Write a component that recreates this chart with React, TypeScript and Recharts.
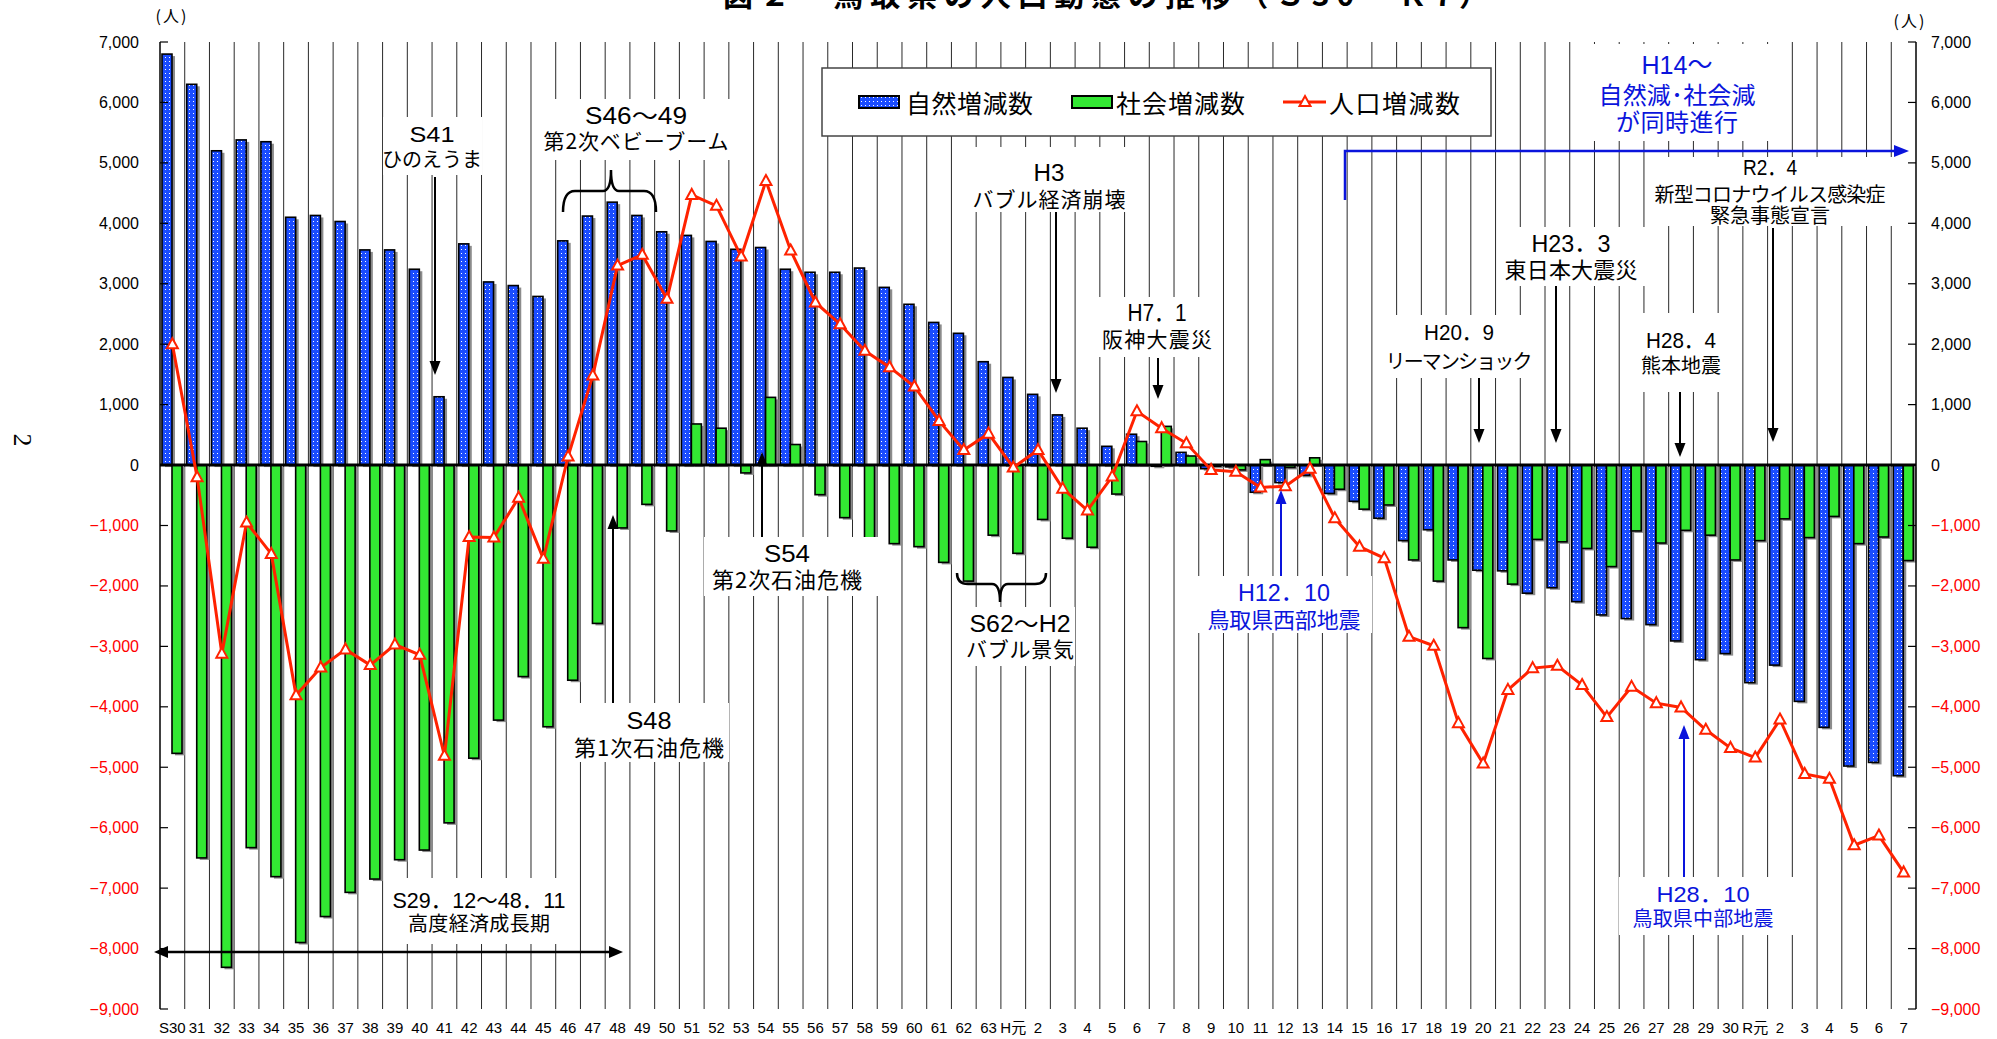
import React from "react";
import { ComposedChart, Bar, Line, XAxis, YAxis, CartesianGrid, ReferenceLine } from "recharts";

// 年次（S30～R7）
const yearKeys = [
  "S30", "S31", "S32", "S33", "S34", "S35", "S36", "S37", "S38", "S39",
  "S40", "S41", "S42", "S43", "S44", "S45", "S46", "S47", "S48", "S49",
  "S50", "S51", "S52", "S53", "S54", "S55", "S56", "S57", "S58", "S59",
  "S60", "S61", "S62", "S63",
  "H1", "H2", "H3", "H4", "H5", "H6", "H7", "H8", "H9", "H10",
  "H11", "H12", "H13", "H14", "H15", "H16", "H17", "H18", "H19", "H20",
  "H21", "H22", "H23", "H24", "H25", "H26", "H27", "H28", "H29", "H30",
  "R1", "R2", "R3", "R4", "R5", "R6", "R7",
];
const yearLabels = [
  "S30", "31", "32", "33", "34", "35", "36", "37", "38", "39",
  "40", "41", "42", "43", "44", "45", "46", "47", "48", "49",
  "50", "51", "52", "53", "54", "55", "56", "57", "58", "59",
  "60", "61", "62", "63",
  "H元", "2", "3", "4", "5", "6", "7", "8", "9", "10",
  "11", "12", "13", "14", "15", "16", "17", "18", "19", "20",
  "21", "22", "23", "24", "25", "26", "27", "28", "29", "30",
  "R元", "2", "3", "4", "5", "6", "7",
];

// 自然増減数
const natural = [
  6800, 6300, 5200, 5380, 5350, 4100, 4130, 4030, 3560, 3560,
  3240, 1130, 3660, 3030, 2970, 2790, 3710, 4120, 4350, 4130,
  3860, 3800, 3700, 3570, 3600, 3240, 3190, 3190, 3260, 2940,
  2660, 2360, 2180, 1710,
  1450, 1170, 830, 610, 310, 510, -20, 210, -60, -30,
  -450, -290, -170, -470, -600, -880, -1250, -1070, -1570, -1740,
  -1750, -2120, -2030, -2260, -2480, -2540, -2640, -2910, -3220, -3120,
  -3600, -3310, -3910, -4340, -4980, -4920, -5140,
];

// 社会増減数
const social = [
  -4770, -6500, -8310, -6330, -6810, -7900, -7470, -7070, -6850, -6530,
  -6370, -5920, -4850, -4220, -3500, -4330, -3560, -2620, -1040, -650,
  -1090, 680, 610, -130, 1120, 340, -490, -870, -1370, -1300,
  -1350, -1610, -1920, -1160,
  -1460, -900, -1210, -1360, -480, 390, 640, 150, -20, -80,
  90, -40, 120, -400, -730, -660, -1570, -1920, -2690, -3200,
  -1970, -1230, -1270, -1380, -1680, -1090, -1290, -1080, -1160, -1570,
  -1250, -890, -1200, -850, -1300, -1190, -1580,
];

// 人口増減数
const total = [
  2000, -200, -3120, -950, -1470, -3810, -3350, -3050, -3310, -2970,
  -3140, -4810, -1190, -1200, -540, -1550, 140, 1480, 3300, 3480,
  2750, 4470, 4290, 3450, 4700, 3550, 2690, 2330, 1890, 1620,
  1300, 730, 250, 520,
  -40, 250, -390, -750, -190, 890, 610, 360, -80, -110,
  -370, -350, -60, -880, -1350, -1540, -2840, -2990, -4270, -4940,
  -3720, -3360, -3320, -3640, -4170, -3670, -3940, -4010, -4380, -4680,
  -4840, -4210, -5110, -5190, -6290, -6130, -6740,
];

const yTicks = [7000, 6000, 5000, 4000, 3000, 2000, 1000, 0, -1000, -2000, -3000, -4000, -5000, -6000, -7000, -8000, -9000];

const W = 1997;
const H = 1039;
const PLOT_LEFT = 160;
const PLOT_RIGHT = 1916;
const PLOT_TOP = 42;

const BLUE = "#1a4cff";
const GREEN = "#33e833";
const RED = "#ff2200";
const NAVY = "#0a14dc";
const JP = "'Noto Sans CJK JP', sans-serif";
const NUM = "'Liberation Sans', Arial, sans-serif";
const MIX = "'Liberation Sans', 'Noto Sans CJK JP', sans-serif";

const chartData = yearKeys.map((k, i) => ({
  key: k,
  natural: natural[i],
  social: social[i],
  total: total[i],
}));

const labelOf: Record<string, string> = {};
yearKeys.forEach((k, i) => (labelOf[k] = yearLabels[i]));

const fmt = (v: number) => (v < 0 ? "−" : "") + Math.abs(v).toLocaleString("en-US");

const LeftTick = (p: any) => {
  const v = p.payload.value;
  return (
    <g>
      <line x1={p.x + 21} x2={p.x + 29} y1={p.y} y2={p.y} stroke="#000" strokeWidth={1.2} />
      <text x={p.x} y={p.y} textAnchor="end" dominantBaseline="central" fontSize={16} fontFamily={NUM} fill={v < 0 ? "#ff0000" : "#000"}>
        {fmt(v)}
      </text>
    </g>
  );
};

const RightTick = (p: any) => {
  const v = p.payload.value;
  return (
    <g>
      <line x1={p.x - 23} x2={p.x - 15} y1={p.y} y2={p.y} stroke="#000" strokeWidth={1.2} />
      <text x={p.x} y={p.y} textAnchor="start" dominantBaseline="central" fontSize={16} fontFamily={NUM} fill={v < 0 ? "#ff0000" : "#000"}>
        {fmt(v)}
      </text>
    </g>
  );
};

const XTick = (p: any) => (
  <text x={p.x} y={p.y + 24} textAnchor="middle" fontSize={15} fontFamily={MIX} fill="#000">
    {labelOf[p.payload.value]}
  </text>
);

const barShape = (fill: string) => (p: any) => {
  const { x, y, width, height } = p;
  if (x == null || !width) return <g />;
  const top = Math.min(y, y + height);
  const h = Math.abs(height);
  return (
    <g>
      <rect x={x + 3} y={top + 2} width={width} height={h} fill="#8c8c8c" />
      <rect x={x} y={top} width={width} height={h} fill={fill} stroke="#000" strokeWidth={1.6} />
    </g>
  );
};

const Tri = (p: any) => {
  const { cx, cy, index } = p;
  if (cx == null || cy == null) return <g key={`t${index}`} />;
  return (
    <path
      key={`t${index}`}
      d={`M${cx},${cy - 6} L${cx + 5.5},${cy + 4} L${cx - 5.5},${cy + 4} Z`}
      fill="#fff"
      stroke={RED}
      strokeWidth={2}
    />
  );
};

const gridX = (props: any) => {
  const left = props?.offset?.left ?? PLOT_LEFT;
  const w = props?.offset?.width ?? PLOT_RIGHT - PLOT_LEFT;
  return yearKeys.slice(1).map((_, i) => left + ((i + 1) * w) / yearKeys.length);
};

type Note = {
  lines: string[];
  w: number[];
  cx: number;
  ys: number[];
  box: number[];
  size: number;
  color?: string;
};

const notes: Note[] = [
  { lines: ["S41", "ひのえうま"], w: [45, 100], cx: 432, ys: [134, 158], box: [383, 117, 482, 175], size: 20 },
  { lines: ["S46～49", "第2次ベビーブーム"], w: [102, 185], cx: 636, ys: [116, 140], box: [543, 99, 732, 160], size: 21 },
  { lines: ["H3", "バブル経済崩壊"], w: [31, 153], cx: 1049, ys: [173, 198], box: [970, 147, 1130, 212], size: 21 },
  { lines: ["H7．1", "阪神大震災"], w: [59, 110], cx: 1157, ys: [313, 338], box: [1097, 297, 1217, 357], size: 21 },
  { lines: ["H14～", "自然減･社会減", "が同時進行"], w: [71, 157, 122], cx: 1677, ys: [65, 93, 120], box: [1590, 44, 1775, 141], size: 24, color: NAVY },
  { lines: ["R2．4", "新型コロナウイルス感染症", "緊急事態宣言"], w: [54, 231, 120], cx: 1770, ys: [167, 193, 214], box: [1650, 157, 1892, 226], size: 20 },
  { lines: ["H23．3", "東日本大震災"], w: [79, 133], cx: 1571, ys: [243, 268], box: [1498, 227, 1645, 286], size: 22 },
  { lines: ["H20．9", "リーマンショック"], w: [70, 147], cx: 1459, ys: [332, 360], box: [1380, 315, 1540, 378], size: 20 },
  { lines: ["H28．4", "熊本地震"], w: [70, 80], cx: 1681, ys: [340, 364], box: [1630, 313, 1732, 392], size: 20 },
  { lines: ["H12．10", "鳥取県西部地震"], w: [92, 153], cx: 1284, ys: [592, 618], box: [1195, 576, 1372, 633], size: 22, color: NAVY },
  { lines: ["H28．10", "鳥取県中部地震"], w: [93, 141], cx: 1703, ys: [894, 917], box: [1619, 877, 1793, 935], size: 20, color: NAVY },
  { lines: ["S54", "第2次石油危機"], w: [46, 150], cx: 787, ys: [553, 578], box: [704, 537, 878, 596], size: 22 },
  { lines: ["S48", "第1次石油危機"], w: [45, 150], cx: 649, ys: [720, 746], box: [567, 703, 729, 762], size: 22 },
  { lines: ["S62～H2", "バブル景気"], w: [101, 108], cx: 1020, ys: [624, 648], box: [957, 607, 1075, 666], size: 21 },
  { lines: ["S29．12～48．11", "高度経済成長期"], w: [173, 142], cx: 479, ys: [900, 922], box: [388, 878, 565, 944], size: 20 },
];

const ArrowV = ({ x, from, to, color = "#000" }: { x: number; from: number; to: number; color?: string }) => {
  const dir = to > from ? 1 : -1;
  const hl = 14;
  const hw = 5.5;
  return (
    <g>
      <line x1={x} x2={x} y1={from} y2={to - dir * hl} stroke={color} strokeWidth={2} />
      <path d={`M${x},${to} L${x - hw},${to - dir * hl} L${x + hw},${to - dir * hl} Z`} fill={color} />
    </g>
  );
};

export default function App() {
  return (
    <div style={{ position: "absolute", left: 0, top: 0, width: W, height: H, background: "#fff", overflow: "hidden" }}>
      <svg width={0} height={0} style={{ position: "absolute" }}>
        <defs>
          <pattern id="dotBlue" width="4" height="4" patternUnits="userSpaceOnUse">
            <rect width="4" height="4" fill={BLUE} />
            <rect x="1" y="1" width="1" height="1" fill="#ffffff" />
          </pattern>
        </defs>
      </svg>

      <ComposedChart
        width={W}
        height={H}
        data={chartData}
        margin={{ top: PLOT_TOP, right: 21, bottom: 0, left: 100 }}
        barGap={0}
      >
        <CartesianGrid yAxisId="left" horizontal={false} stroke="#2a2a2a" strokeWidth={1} verticalCoordinatesGenerator={gridX} />
        <XAxis
          dataKey="key"
          interval={0}
          axisLine={false}
          tickLine={false}
          tickSize={0}
          tickMargin={0}
          height={30}
          tick={XTick}
        />
        <YAxis
          yAxisId="left"
          domain={[-9000, 7000]}
          ticks={yTicks}
          allowDataOverflow
          width={60}
          tickSize={0}
          tickMargin={21}
          tickLine={false}
          axisLine={{ stroke: "#000", strokeWidth: 1.5 }}
          tick={LeftTick}
        />
        <YAxis
          yAxisId="right"
          orientation="right"
          domain={[-9000, 7000]}
          ticks={yTicks}
          allowDataOverflow
          width={60}
          tickSize={0}
          tickMargin={15}
          tickLine={false}
          axisLine={{ stroke: "#000", strokeWidth: 1.5 }}
          tick={RightTick}
        />
        <Bar yAxisId="left" dataKey="natural" barSize={10} fill="url(#dotBlue)" shape={barShape("url(#dotBlue)")} isAnimationActive={false} />
        <Bar yAxisId="left" dataKey="social" barSize={10} fill={GREEN} shape={barShape(GREEN)} isAnimationActive={false} />
        <ReferenceLine yAxisId="left" y={0} stroke="#000" strokeWidth={3} />
        <Line
          yAxisId="left"
          type="linear"
          dataKey="total"
          stroke={RED}
          strokeWidth={3}
          dot={Tri}
          activeDot={false}
          isAnimationActive={false}
        />
      </ComposedChart>

      <svg width={W} height={H} style={{ position: "absolute", left: 0, top: 0, pointerEvents: "none" }}>
        {/* 見出し（上端で切れている） */}
        <text x={1106} y={6} textAnchor="middle" fontSize={30} fontWeight="bold" fontFamily={JP} textLength={766} lengthAdjust="spacing">
          図２　鳥取県の人口動態の推移（Ｓ30～Ｒ7）
        </text>
        <text x={22} y={440} fontSize={26} fontFamily="serif" textAnchor="middle" dominantBaseline="central" transform="rotate(90 22 440)">
          2
        </text>
        <text x={172} y={15} fontSize={16} fontFamily={JP} textAnchor="middle" dominantBaseline="central" letterSpacing={2}>
          (人)
        </text>
        <text x={1910} y={20} fontSize={16} fontFamily={JP} textAnchor="middle" dominantBaseline="central" letterSpacing={2}>
          (人)
        </text>

        {/* 凡例 */}
        <rect x={822} y={68} width={669} height={68} fill="#fff" stroke="#444" strokeWidth={1.5} />
        <rect x={859} y={96} width={40} height={12} fill="url(#dotBlue)" stroke="#000" strokeWidth={2} />
        <text x={906} y={102} fontSize={25} fontFamily={JP} dominantBaseline="central" textLength={127} lengthAdjust="spacing">自然増減数</text>
        <rect x={1072} y={96} width={40} height={12} fill={GREEN} stroke="#000" strokeWidth={2} />
        <text x={1116} y={102} fontSize={25} fontFamily={JP} dominantBaseline="central" textLength={129} lengthAdjust="spacing">社会増減数</text>
        <line x1={1283} x2={1326} y1={102} y2={102} stroke={RED} strokeWidth={3} />
        <path d="M1305,96 L1310.5,106 L1299.5,106 Z" fill="#fff" stroke={RED} strokeWidth={2} />
        <text x={1329} y={102} fontSize={25} fontFamily={JP} dominantBaseline="central" textLength={131} lengthAdjust="spacing">人口増減数</text>

        {/* 注記 */}
        {notes.map((n, i) => (
          <g key={i}>
            <rect x={n.box[0]} y={n.box[1]} width={n.box[2] - n.box[0]} height={n.box[3] - n.box[1]} fill="#fff" />
            {n.lines.map((t, j) => (
              <text
                key={j}
                x={n.cx}
                y={n.ys[j]}
                textAnchor="middle"
                dominantBaseline="central"
                fontSize={j === 0 ? n.size + 2 : n.size}
                fontFamily={j === 0 ? MIX : JP}
                fill={n.color ?? "#000"}
                textLength={n.w[j]}
                lengthAdjust={j === 0 ? "spacingAndGlyphs" : "spacing"}
              >
                {t}
              </text>
            ))}
          </g>
        ))}

        <ArrowV x={435} from={177} to={375} />
        <ArrowV x={1056} from={212} to={393} />
        <ArrowV x={1158} from={358} to={399} />
        <ArrowV x={1773} from={228} to={442} />
        <ArrowV x={1556} from={286} to={443} />
        <ArrowV x={1479} from={378} to={443} />
        <ArrowV x={1680} from={392} to={457} />
        <ArrowV x={762} from={537} to={452} />
        <ArrowV x={613} from={703} to={515} />
        <ArrowV x={1281} from={576} to={490} color={NAVY} />
        <ArrowV x={1684} from={877} to={725} color={NAVY} />

        {/* S46～49 の括弧 */}
        <path d="M563,212 Q563,191 575,191 L603,191 Q611,191 611,170 Q611,191 619,191 L644,191 Q656,191 656,212" fill="none" stroke="#000" strokeWidth={2.5} />
        {/* S62～H2 の括弧 */}
        <path d="M957,573 Q957,584 968,584 L992,584 Q1000,584 1000,602 Q1000,584 1008,584 L1035,584 Q1046,584 1046,573" fill="none" stroke="#000" strokeWidth={2.5} />

        {/* 高度経済成長期の両矢印 */}
        <line x1={166} x2={611} y1={952} y2={952} stroke="#000" strokeWidth={2.5} />
        <path d="M154,952 L168,946 L168,958 Z" fill="#000" />
        <path d="M623,952 L609,946 L609,958 Z" fill="#000" />

        {/* H14～ の矢印 */}
        <polyline points="1345,200 1345,151 1895,151" fill="none" stroke={NAVY} strokeWidth={2.5} />
        <path d="M1909,151 L1894,145 L1894,157 Z" fill={NAVY} />
      </svg>
    </div>
  );
}
